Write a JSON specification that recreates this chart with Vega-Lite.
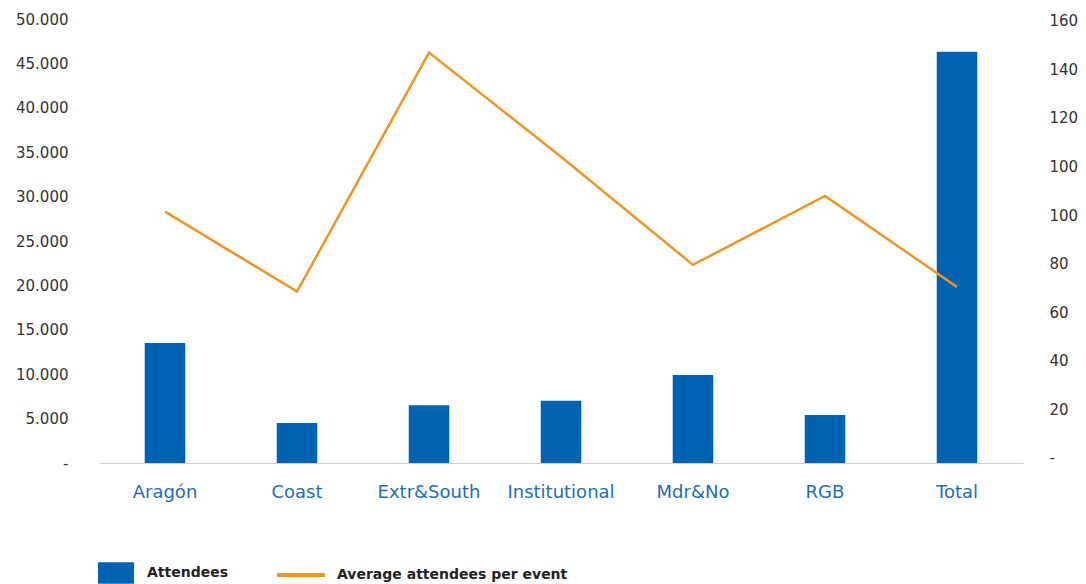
{
  "$schema": "https://vega.github.io/schema/vega-lite/v6.json",
  "width": 924,
  "height": 444,
  "padding": {"left": 99, "top": 19, "right": 63, "bottom": 121},
  "autosize": {"type": "none"},
  "background": "white",
  "config": {"view": {"stroke": null}, "font": "DejaVu Sans"},
  "data": {
    "values": [
      {"region": "Aragón", "attendees": 13500, "avg": 101.4},
      {"region": "Coast", "attendees": 4500, "avg": 68.5},
      {"region": "Extr&South", "attendees": 6500, "avg": 166.9},
      {"region": "Institutional", "attendees": 7000, "avg": 124},
      {"region": "Mdr&No", "attendees": 9900, "avg": 79.5},
      {"region": "RGB", "attendees": 5400, "avg": 107.9},
      {"region": "Total", "attendees": 46300, "avg": 70.4}
    ]
  },
  "encoding": {
    "x": {
      "field": "region",
      "type": "nominal",
      "sort": null,
      "scale": {"paddingInner": 0.693, "paddingOuter": 0.3465},
      "axis": {
        "title": null,
        "labelAngle": 0,
        "ticks": false,
        "domain": true,
        "domainColor": "#cfcfcf",
        "domainWidth": 1,
        "labelFont": "DejaVu Sans",
        "labelFontSize": 18,
        "labelColor": "#1f6db4",
        "labelBaseline": "alphabetic",
        "labelPadding": 34
      }
    }
  },
  "layer": [
    {
      "mark": {"type": "bar"},
      "encoding": {
        "y": {
          "field": "attendees",
          "type": "quantitative",
          "scale": {"domain": [0, 50000], "nice": false},
          "axis": {
            "title": null,
            "orient": "left",
            "grid": false,
            "ticks": false,
            "domain": false,
            "values": [0, 5000, 10000, 15000, 20000, 25000, 30000, 35000, 40000, 45000, 50000],
            "labelExpr": "datum.value == 0 ? '-' : replace(format(datum.value, ','), ',', '.')",
            "labelFontSize": 15,
            "labelColor": "#333333",
            "labelPadding": 31
          }
        },
        "fill": {
          "datum": "Attendees",
          "type": "nominal",
          "scale": {"range": ["#0063B1"]},
          "legend": {
            "title": null,
            "orient": "none",
            "legendX": -1,
            "legendY": 536,
            "padding": 0,
            "symbolType": "M-1,-0.6H1V0.6H-1Z",
            "symbolSize": 1296,
            "symbolStrokeWidth": 0,
            "labelFont": "DejaVu Sans",
            "labelFontSize": 14,
            "labelFontWeight": "bold",
            "labelColor": "#222222",
            "labelOffset": 13,
            "labelLimit": 400
          }
        }
      }
    },
    {
      "mark": {"type": "line", "strokeWidth": 2.5},
      "encoding": {
        "y": {
          "field": "avg",
          "type": "quantitative",
          "scale": {"domain": [-2.06, 180.7], "nice": false, "zero": false},
          "axis": {
            "title": null,
            "orient": "right",
            "grid": false,
            "ticks": false,
            "domain": false,
            "values": [0, 20, 40, 60, 80, 100, 120, 140, 160, 180],
            "labelExpr": "datum.value == 0 ? '-' : (datum.value <= 100 ? format(datum.value, 'd') : format(datum.value - 20, 'd'))",
            "labelFontSize": 15,
            "labelColor": "#333333",
            "labelPadding": 26
          }
        },
        "stroke": {
          "datum": "Average attendees per event",
          "type": "nominal",
          "scale": {"range": ["#F39322"]},
          "legend": {
            "title": null,
            "orient": "none",
            "legendX": 176,
            "legendY": 530,
            "padding": 0,
            "symbolType": "stroke",
            "symbolSize": 2304,
            "symbolStrokeWidth": 4,
            "labelFont": "DejaVu Sans",
            "labelFontSize": 14,
            "labelFontWeight": "bold",
            "labelColor": "#222222",
            "labelOffset": 10,
            "labelLimit": 400
          }
        }
      }
    }
  ],
  "resolve": {"scale": {"y": "independent"}}
}
